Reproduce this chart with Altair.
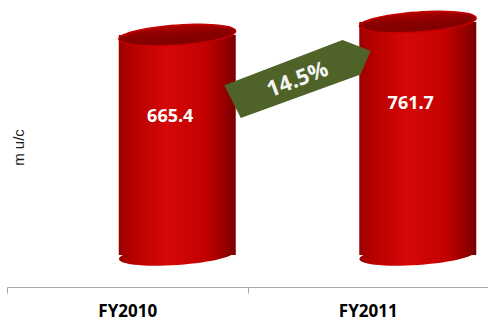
import math
import altair as alt
import pandas as pd

# ---- data ----
CATEGORIES = ["FY2010", "FY2011"]
VALUES = [665.4, 761.7]
Y_MIN, Y_MAX = -963, 925          # truncated value axis (Excel 3-D look)
Y_TITLE = "m u/c"

df = pd.DataFrame({
    "year": CATEGORIES,
    "value": VALUES,
    "base": [Y_MIN] * len(VALUES),
    "label": [f"{v:.1f}" for v in VALUES],
})
growth = (VALUES[1] / VALUES[0] - 1) * 100
gdf = pd.DataFrame({
    "from": [CATEGORIES[0]],
    "mid": [sum(VALUES) / len(VALUES)],
    "label": [f"{growth:.1f}%"],
})

# ---- shapes / styles ----
def ellipse_path(ratio, n=60):
    pts = [(math.cos(2 * math.pi * i / n), ratio * math.sin(2 * math.pi * i / n)) for i in range(n)]
    return "M" + " L".join(f"{x:.4f},{y:.4f}" for x, y in pts) + " Z"

ELLIPSE = ellipse_path(0.17)
ARROW = "M-1,-0.25 L0.7,-0.25 L1,0.02 L0.76,0.27 L-0.95,0.24 Z"
CYL_W = 117
CYL_DX = 50

body_grad = alt.LinearGradient(
    gradient="linear", x1=0, y1=0, x2=1, y2=0,
    stops=[
        alt.GradientStop(offset=0, color="#9a0000"),
        alt.GradientStop(offset=0.12, color="#b80000"),
        alt.GradientStop(offset=0.42, color="#d50808"),
        alt.GradientStop(offset=0.75, color="#c20000"),
        alt.GradientStop(offset=1, color="#7a0000"),
    ],
)
top_grad = alt.LinearGradient(
    gradient="linear", x1=0, y1=0, x2=0, y2=1,
    stops=[
        alt.GradientStop(offset=0, color="#b00000"),
        alt.GradientStop(offset=0.45, color="#8a0000"),
        alt.GradientStop(offset=1, color="#800000"),
    ],
)

x_axis = alt.Axis(
    title=None, labelFont="Open Sans", labelFontWeight="bold", labelFontSize=17,
    labelColor="#000000", labelAngle=0, domainColor="#a6a6a6", tickColor="#a6a6a6",
    tickSize=6, tickBand="extent", offset=32, labelPadding=10, grid=False,
)
y_axis = alt.Axis(
    title=Y_TITLE, labels=False, ticks=False, domain=False, grid=False,
    titleFont="Liberation Sans", titleFontSize=15, titleFontWeight="normal",
    titleColor="#1a1a1a", titleAngle=270, titleX=16, titleY=147,
    titleAlign="center", titleBaseline="alphabetic",
)
x_scale = alt.Scale(domain=CATEGORIES, paddingInner=0, paddingOuter=0)
y_scale = alt.Scale(domain=[Y_MIN, Y_MAX], zero=False, nice=False)

X = alt.X("year:N", scale=x_scale, axis=x_axis)

base = alt.Chart(df)

bottom = base.mark_point(
    shape=ELLIPSE, size=CYL_W ** 2, filled=True, fill=body_grad, opacity=1,
    strokeWidth=0, angle=356, xOffset=CYL_DX,
).encode(x=X, y=alt.Y("base:Q", scale=y_scale, axis=y_axis))

body = base.mark_bar(size=CYL_W, xOffset=CYL_DX, fill=body_grad).encode(
    x=X, y=alt.Y("value:Q", scale=y_scale, axis=y_axis), y2="base:Q"
)

top = base.mark_point(
    shape=ELLIPSE, size=CYL_W ** 2, filled=True, fill=top_grad, opacity=1,
    stroke="#c40000", strokeWidth=1.5, angle=356, xOffset=CYL_DX,
).encode(x=X, y=alt.Y("value:Q", scale=y_scale, axis=y_axis))

labels = base.mark_text(
    font="Open Sans", fontWeight="bold", fontSize=18, color="#ffffff",
    align="center", baseline="middle", xOffset=43, yOffset=82,
).encode(x=X, y=alt.Y("value:Q", scale=y_scale, axis=y_axis), text="label:N")

GX = alt.X("from:N", scale=x_scale, axis=x_axis, bandPosition=1)
arrow = alt.Chart(gdf).mark_point(
    shape=ARROW, size=149 ** 2, filled=True, fill="#4f6228", opacity=1,
    strokeWidth=0, angle=339, xOffset=53, yOffset=47.5,
).encode(x=GX, y=alt.Y("mid:Q", scale=y_scale, axis=y_axis))

pct = alt.Chart(gdf).mark_text(
    font="Open Sans", fontWeight="bold", fontSize=22, color="#f4f4f4",
    align="center", baseline="middle", angle=339, xOffset=50, yOffset=51,
).encode(x=GX, y=alt.Y("mid:Q", scale=y_scale, axis=y_axis), text="label:N")

chart = (
    alt.layer(bottom, body, top, labels, arrow, pct)
    .properties(
        width=481, height=255,
        autosize=alt.AutoSizeParams(type="none"),
        padding={"left": 7, "top": 0, "right": 0, "bottom": 65},
        background="white",
    )
    .configure_view(stroke=None)
)

chart.save("out.html", embed_options={"renderer": "svg", "actions": False})
